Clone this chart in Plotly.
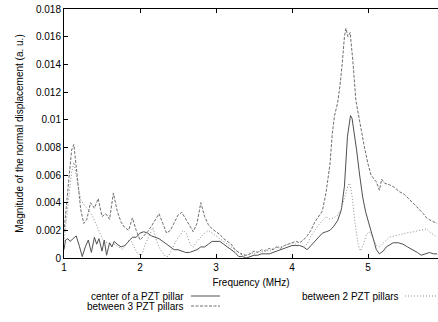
import plotly.graph_objects as go

# ---- data (frequency in MHz, magnitude in a.u.) ----
center_data = [
    (1.00, 0.0006), (1.02, 0.0013), (1.05, 0.0014), (1.08, 0.0012), (1.12, 0.0014),
    (1.16, 0.0016), (1.20, 0.0009), (1.24, 0.0001), (1.28, 0.0008), (1.32, 0.0013),
    (1.36, 0.0004), (1.40, 0.0015), (1.43, 0.0010), (1.46, 0.0014), (1.50, 0.0005),
    (1.53, 0.0013), (1.56, 0.0002), (1.60, 0.0011), (1.63, 0.0008), (1.66, 0.0012),
    (1.70, 0.0010), (1.75, 0.0008), (1.80, 0.0009), (1.85, 0.0012), (1.90, 0.0015),
    (1.95, 0.0015), (2.00, 0.0018), (2.05, 0.0019), (2.10, 0.0018), (2.15, 0.0016),
    (2.20, 0.0015), (2.25, 0.0014), (2.30, 0.0012), (2.35, 0.0010), (2.40, 0.0008),
    (2.45, 0.0006), (2.50, 0.0006), (2.55, 0.0005), (2.60, 0.0004), (2.65, 0.0004),
    (2.70, 0.0005), (2.75, 0.0006), (2.80, 0.0008), (2.85, 0.0008), (2.90, 0.0010),
    (2.95, 0.0012), (3.00, 0.0012), (3.05, 0.0012), (3.10, 0.0010), (3.15, 0.0008),
    (3.20, 0.0006), (3.25, 0.0004), (3.30, 0.0001), (3.35, 0.0001), (3.40, 0.0000),
    (3.45, 0.0001), (3.50, 0.0002), (3.55, 0.0002), (3.60, 0.0003), (3.65, 0.0003),
    (3.70, 0.0003), (3.75, 0.0004), (3.80, 0.0005), (3.85, 0.0006), (3.90, 0.0007),
    (3.95, 0.0008), (4.00, 0.0009), (4.05, 0.0009), (4.10, 0.0009), (4.15, 0.0008),
    (4.20, 0.0006), (4.25, 0.0009), (4.30, 0.0012), (4.35, 0.0015), (4.40, 0.0018),
    (4.45, 0.0019), (4.50, 0.0020), (4.55, 0.0023), (4.60, 0.0027), (4.65, 0.0035),
    (4.69, 0.0052), (4.73, 0.0088), (4.77, 0.0103), (4.79, 0.0101), (4.82, 0.0090),
    (4.85, 0.0078), (4.89, 0.0060), (4.93, 0.0044), (4.97, 0.0033), (5.02, 0.0023),
    (5.06, 0.0014), (5.11, 0.0006), (5.15, 0.0003), (5.20, 0.0005), (5.24, 0.0008),
    (5.29, 0.0010), (5.33, 0.0011), (5.40, 0.0011), (5.46, 0.0010), (5.52, 0.0008),
    (5.59, 0.0006), (5.65, 0.0004), (5.70, 0.0002), (5.75, 0.0003), (5.81, 0.0004),
    (5.86, 0.0003), (5.91, 0.0003),
]

between3_data = [
    (1.00, 0.0019), (1.05, 0.0048), (1.10, 0.0078), (1.13, 0.0082), (1.17, 0.0060),
    (1.22, 0.0035), (1.26, 0.0025), (1.30, 0.0028), (1.35, 0.0040), (1.40, 0.0036),
    (1.45, 0.0043), (1.50, 0.0030), (1.55, 0.0032), (1.60, 0.0028), (1.65, 0.0047),
    (1.70, 0.0034), (1.75, 0.0026), (1.80, 0.0022), (1.85, 0.0020), (1.90, 0.0029),
    (1.95, 0.0020), (2.00, 0.0013), (2.05, 0.0016), (2.10, 0.0019), (2.15, 0.0023),
    (2.20, 0.0028), (2.25, 0.0032), (2.30, 0.0025), (2.35, 0.0018), (2.40, 0.0020),
    (2.45, 0.0026), (2.50, 0.0031), (2.55, 0.0033), (2.60, 0.0028), (2.65, 0.0024),
    (2.70, 0.0019), (2.75, 0.0025), (2.80, 0.0040), (2.85, 0.0030), (2.90, 0.0024),
    (2.95, 0.0021), (3.00, 0.0019), (3.05, 0.0017), (3.10, 0.0014), (3.15, 0.0012),
    (3.20, 0.0010), (3.25, 0.0006), (3.30, 0.0004), (3.35, 0.0002), (3.40, 0.0002),
    (3.45, 0.0003), (3.50, 0.0005), (3.55, 0.0004), (3.60, 0.0006), (3.65, 0.0005),
    (3.70, 0.0007), (3.75, 0.0006), (3.80, 0.0008), (3.85, 0.0007), (3.90, 0.0009),
    (3.95, 0.0010), (4.00, 0.0011), (4.05, 0.0012), (4.10, 0.0011), (4.15, 0.0013),
    (4.20, 0.0016), (4.25, 0.0020), (4.30, 0.0026), (4.35, 0.0030), (4.40, 0.0034),
    (4.45, 0.0048), (4.50, 0.0068), (4.53, 0.0090), (4.56, 0.0103), (4.60, 0.0112),
    (4.63, 0.0124), (4.66, 0.0140), (4.69, 0.0160), (4.71, 0.0166), (4.735, 0.0160),
    (4.765, 0.0163), (4.80, 0.0143), (4.84, 0.0114), (4.90, 0.0095), (4.95, 0.0081),
    (5.00, 0.0068), (5.04, 0.0060), (5.08, 0.0057), (5.11, 0.0055), (5.15, 0.0049),
    (5.18, 0.0057), (5.22, 0.0054), (5.28, 0.0053), (5.35, 0.0051), (5.41, 0.0048),
    (5.48, 0.0046), (5.55, 0.0042), (5.62, 0.0038), (5.68, 0.0035), (5.73, 0.0032),
    (5.77, 0.0029), (5.83, 0.0027), (5.91, 0.0025),
]

between2_data = [
    (1.00, 0.0012), (1.05, 0.0035), (1.10, 0.0062), (1.13, 0.0069), (1.17, 0.0058),
    (1.22, 0.0042), (1.27, 0.0038), (1.32, 0.0035), (1.37, 0.0031), (1.42, 0.0025),
    (1.47, 0.0018), (1.52, 0.0012), (1.57, 0.0011), (1.62, 0.0009), (1.67, 0.0010),
    (1.72, 0.0008), (1.77, 0.0006), (1.82, 0.0010), (1.87, 0.0014), (1.92, 0.0008),
    (1.97, 0.0003), (2.02, 0.0002), (2.07, 0.0010), (2.12, 0.0016), (2.17, 0.0022),
    (2.22, 0.0012), (2.27, 0.0006), (2.32, 0.0002), (2.37, 0.0001), (2.42, 0.0006),
    (2.47, 0.0012), (2.52, 0.0016), (2.57, 0.0020), (2.61, 0.0018), (2.66, 0.0010),
    (2.70, 0.0008), (2.75, 0.0012), (2.80, 0.0015), (2.85, 0.0018), (2.90, 0.0020),
    (2.95, 0.0018), (3.00, 0.0016), (3.05, 0.0014), (3.10, 0.0012), (3.15, 0.0010),
    (3.20, 0.0008), (3.25, 0.0006), (3.30, 0.0004), (3.35, 0.0003), (3.40, 0.0002),
    (3.45, 0.0004), (3.50, 0.0003), (3.55, 0.0005), (3.60, 0.0004), (3.65, 0.0006),
    (3.70, 0.0005), (3.75, 0.0007), (3.80, 0.0008), (3.85, 0.0008), (3.90, 0.0009),
    (3.95, 0.0010), (4.00, 0.0011), (4.05, 0.0010), (4.10, 0.0009), (4.15, 0.0008),
    (4.20, 0.0010), (4.25, 0.0016), (4.30, 0.0020), (4.35, 0.0024), (4.40, 0.0027),
    (4.45, 0.0030), (4.50, 0.0028), (4.55, 0.0029), (4.60, 0.0031), (4.65, 0.0036),
    (4.70, 0.0045), (4.74, 0.0053), (4.76, 0.0054), (4.79, 0.0045), (4.83, 0.0025),
    (4.87, 0.0010), (4.90, 0.0005), (4.94, 0.0010), (4.98, 0.0017), (5.02, 0.0019),
    (5.06, 0.0015), (5.11, 0.0009), (5.15, 0.0008), (5.20, 0.0011), (5.28, 0.0015),
    (5.35, 0.0016), (5.41, 0.0017), (5.50, 0.0018), (5.60, 0.0019), (5.68, 0.0020),
    (5.77, 0.0021), (5.83, 0.0018), (5.91, 0.0015),
]

series_names = ["center of a PZT pillar", "between 3 PZT pillars", "between 2 PZT pillars"]

x_tick_vals = [1, 2, 3, 4, 5]
x_tick_text = ["1", "2", "3", "4", "5"]
y_tick_vals = [0, 0.002, 0.004, 0.006, 0.008, 0.01, 0.012, 0.014, 0.016, 0.018]
y_tick_text = ["0", "0.002", "0.004", "0.006", "0.008", "0.01", "0.012", "0.014", "0.016", "0.018"]

# ---- styles ----
FONT = "Liberation Sans, Arial, Helvetica, sans-serif"
styles = [
    dict(color="#505050", width=1, dash="solid"),
    dict(color="#6e6e6e", width=1, dash="3px,1.5px"),
    dict(color="#8c8c8c", width=1, dash="1px,2px"),
]

fig = go.Figure()
for data, name, st in zip([center_data, between3_data, between2_data], series_names, styles):
    fx = [p[0] for p in data]
    fy = [p[1] for p in data]
    fig.add_trace(go.Scatter(x=fx, y=fy, mode="lines", name=name, line=st, showlegend=False))

W, H = 438, 322
L, R, T, B = 64, 0, 9, 64
pw, ph = W - L - R, H - T - B


def px2paper_x(px):
    return (px - L) / pw


def px2paper_y(py):
    return (H - B - py) / ph


# gnuplot-style legend: text right-aligned, sample line to its right
legend_items = [
    (series_names[0], 186, 191, 220, 296, styles[0]),
    (series_names[1], 186, 191, 220, 306, styles[1]),
    (series_names[2], 401, 405, 436, 296, styles[2]),
]
shapes = []
annotations = []
for text, tx, lx0, lx1, ly, st in legend_items:
    annotations.append(dict(
        text=text, x=px2paper_x(tx), y=px2paper_y(ly), xref="paper", yref="paper",
        xanchor="right", yanchor="middle", showarrow=False,
        font=dict(family=FONT, size=10, color="black"),
    ))
    shapes.append(dict(
        type="line", xref="paper", yref="paper",
        x0=px2paper_x(lx0), x1=px2paper_x(lx1), y0=px2paper_y(ly), y1=px2paper_y(ly),
        line=st,
    ))

fig.update_layout(
    width=W, height=H,
    margin=dict(l=L, r=R, t=T, b=B, pad=0),
    paper_bgcolor="white", plot_bgcolor="white",
    font=dict(family=FONT, size=10, color="black"),
    shapes=shapes, annotations=annotations,
    xaxis=dict(
        range=[1, 1 + (W - L - R) / 76.0],
        tickvals=x_tick_vals, ticktext=x_tick_text,
        ticks="inside", ticklen=4, tickwidth=1, tickcolor="black",
        showline=True, linecolor="black", linewidth=1, mirror="ticks",
        showgrid=False, zeroline=False,
        title=dict(text="Frequency (MHz)", standoff=6, font=dict(size=10)),
        tickfont=dict(size=10),
    ),
    yaxis=dict(
        range=[0, 0.018],
        tickvals=y_tick_vals, ticktext=y_tick_text,
        ticks="inside", ticklen=4, tickwidth=1, tickcolor="black",
        showline=True, linecolor="black", linewidth=1, mirror=False,
        showgrid=False, zeroline=False,
        title=dict(text="Magnitude of the normal displacement (a. u.)", standoff=10, font=dict(size=10)),
        tickfont=dict(size=10),
    ),
)

fig.write_html("out.html")
